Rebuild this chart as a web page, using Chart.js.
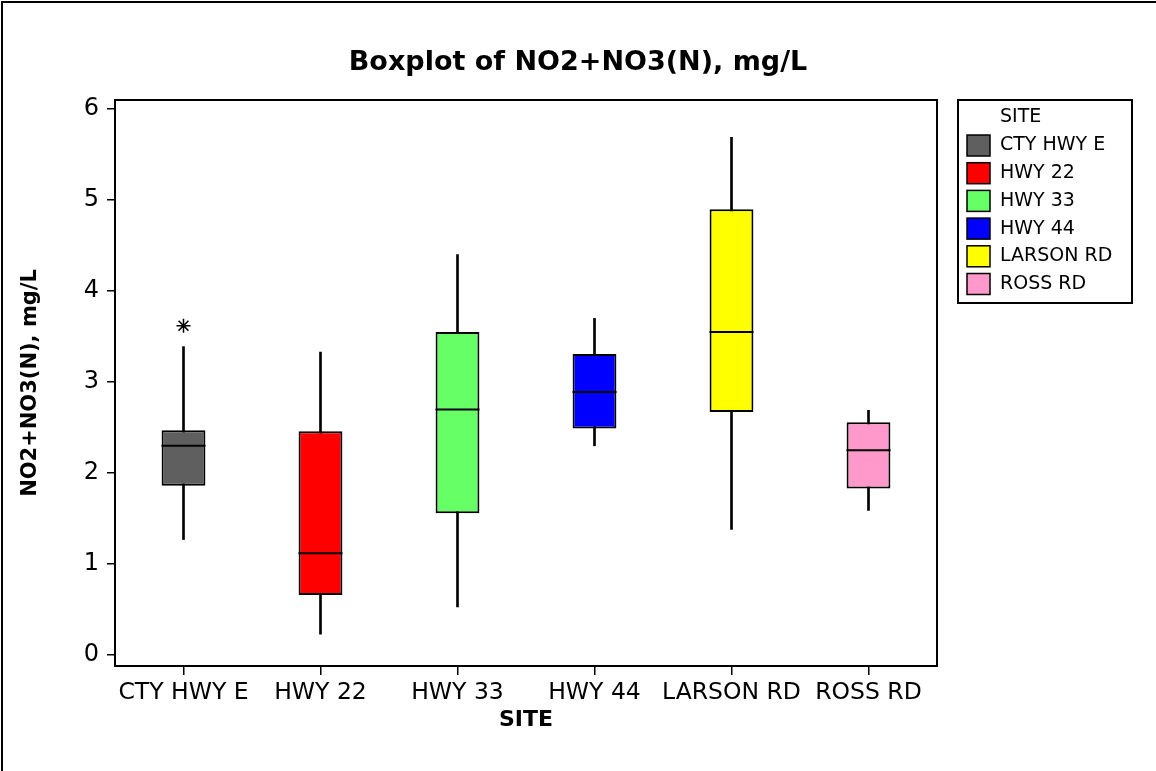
<!DOCTYPE html>
<html>
<head>
<meta charset="utf-8">
<script src="https://cdn.jsdelivr.net/npm/chart.js@4/dist/chart.umd.min.js"></script>
<style>
  html, body { margin: 0; padding: 0; background: #fff; }
  #wrap { width: 1156px; height: 771px; position: relative; }
</style>
</head>
<body>
<div id="wrap"><canvas id="box"></canvas></div>
<script>
// Nitrate + nitrite summary per sampling site (mg/L)
const sites = ['CTY HWY E', 'HWY 22', 'HWY 33', 'HWY 44', 'LARSON RD', 'ROSS RD'];
const whiskerLow = [1.27, 0.23, 0.53, 2.30, 1.38, 1.59];
const q1 = [1.86, 0.66, 1.56, 2.49, 2.67, 1.83];
const medians = [2.30, 1.12, 2.70, 2.89, 3.55, 2.25];
const q3 = [2.47, 2.46, 3.55, 3.31, 4.90, 2.56];
const whiskerHigh = [3.39, 3.33, 4.40, 3.70, 5.69, 2.69];
const outliers = [3.62, null, null, null, null, null];
const boxColors = ['#5f5f5f', '#ff0000', '#66ff66', '#0000ff', '#ffff00', '#ff99cc'];
const yTicks = [0, 1, 2, 3, 4, 5, 6];

const FONT = '"DejaVu Sans", Verdana, sans-serif';

// page edge (top/left) + frame around the plot area
const frames = {
  id: 'frames',
  afterDraw(chart) {
    const { ctx, chartArea: a } = chart;
    ctx.save();
    ctx.strokeStyle = '#000';
    ctx.lineWidth = 2;
    ctx.beginPath();
    ctx.moveTo(2, chart.height);
    ctx.lineTo(2, 2);
    ctx.lineTo(chart.width, 2);
    ctx.stroke();
    ctx.strokeRect(a.left, a.top, a.right - a.left, a.bottom - a.top);
    ctx.restore();
  },
};

// boxed legend to the right of the plot
const siteLegend = {
  id: 'siteLegend',
  afterDraw(chart) {
    const ctx = chart.ctx;
    const x = chart.chartArea.right + 21;
    const y = chart.chartArea.top;
    ctx.save();
    ctx.strokeStyle = '#000';
    ctx.lineWidth = 2;
    ctx.strokeRect(x, y, 174, 203);
    ctx.font = '19px ' + FONT;
    ctx.textBaseline = 'middle';
    ctx.fillStyle = '#000';
    ctx.fillText('SITE', x + 42, y + 17);
    sites.forEach((s, i) => {
      const cy = y + 45.5 + i * 27.7;
      ctx.fillStyle = boxColors[i];
      ctx.fillRect(x + 9, cy - 10.5, 23, 21);
      ctx.lineWidth = 1.5;
      ctx.strokeRect(x + 9, cy - 10.5, 23, 21);
      ctx.fillStyle = '#000';
      ctx.fillText(s, x + 42, cy);
    });
    ctx.restore();
  },
};

new Chart(document.getElementById('box'), {
  type: 'bar',
  data: {
    labels: sites,
    datasets: [
      {
        label: 'Whiskers',
        data: whiskerLow.map((v, i) => [v, whiskerHigh[i]]),
        backgroundColor: '#000',
        borderWidth: 0,
        barThickness: 2,
        grouped: false,
        order: 3,
      },
      {
        label: 'IQR',
        data: q1.map((v, i) => [v, q3[i]]),
        backgroundColor: boxColors,
        borderColor: '#000',
        borderWidth: 2,
        borderSkipped: false,
        barPercentage: 0.32,
        categoryPercentage: 1,
        grouped: false,
        order: 2,
      },
      {
        type: 'line',
        label: 'Median',
        data: medians,
        showLine: false,
        pointStyle: 'line',
        pointRadius: 22,
        pointBorderWidth: 2,
        pointBorderColor: '#000',
        order: 1,
      },
      {
        type: 'line',
        label: 'Outlier',
        data: outliers,
        showLine: false,
        pointStyle: 'star',
        pointRadius: 7,
        pointBorderWidth: 1.5,
        pointBorderColor: '#000',
        order: 0,
      },
    ],
  },
  options: {
    responsive: true,
    maintainAspectRatio: false,
    animation: false,
    layout: { padding: { left: 0, right: 0, top: 47, bottom: 0 } },
    plugins: {
      legend: { display: false },
      tooltip: { enabled: false },
      title: {
        display: true,
        text: 'Boxplot of NO2+NO3(N), mg/L',
        color: '#000',
        font: { family: FONT, size: 27, weight: 'bold' },
        padding: { top: 0, bottom: 20.6 },
      },
    },
    scales: {
      x: {
        offset: true,
        afterFit: (s) => {
          s.height = 105;
        },
        grid: { display: true, offset: false, drawOnChartArea: false, tickLength: 9, color: '#000', lineWidth: 1.5 },
        border: { display: true, color: '#000', width: 2 },
        ticks: { color: '#000', font: { family: FONT, size: 23.5 }, padding: 4, maxRotation: 0, autoSkip: false },
        title: { display: true, text: 'SITE', color: '#000', font: { family: FONT, size: 22, weight: 'bold' }, padding: { top: 0, bottom: 38 } },
      },
      y: {
        min: -0.12,
        max: 6.1,
        afterBuildTicks: (axis) => {
          axis.ticks = yTicks.map((v) => ({ value: v }));
        },
        afterFit: (s) => {
          s.width = 115;
        },
        grid: { display: true, drawOnChartArea: false, tickLength: 8, color: '#000', lineWidth: 1.5 },
        border: { display: true, color: '#000', width: 2 },
        ticks: { color: '#000', font: { family: FONT, size: 24 }, padding: 8 },
        title: { display: true, text: 'NO2+NO3(N), mg/L', color: '#000', font: { family: FONT, size: 21, weight: 'bold' }, padding: { top: 18, bottom: 0 } },
      },
      // empty right-hand axis that reserves room for the legend
      legendSpace: {
        type: 'linear',
        position: 'right',
        min: -0.12,
        max: 6.1,
        afterFit: (s) => {
          s.width = 219;
        },
        grid: { display: false },
        border: { display: false },
        ticks: { display: false },
      },
    },
  },
  plugins: [frames, siteLegend],
});
</script>
</body>
</html>
